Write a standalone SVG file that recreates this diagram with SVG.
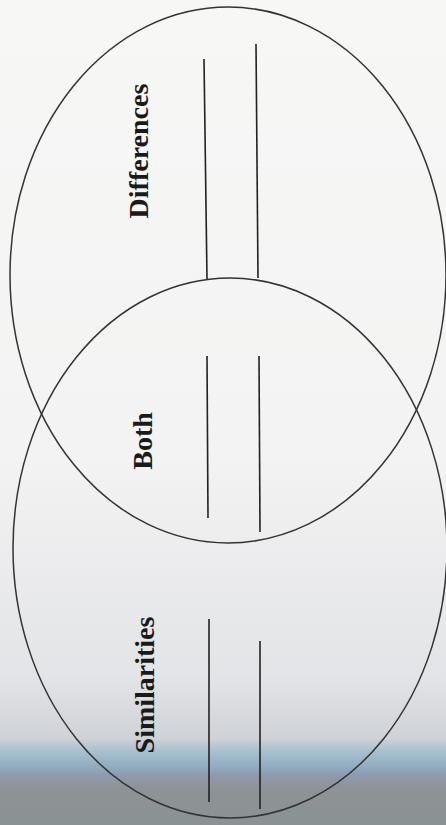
<svg xmlns="http://www.w3.org/2000/svg" width="446" height="825" viewBox="0 0 446 825">
<defs>
<linearGradient id="bg" x1="0" y1="0" x2="0" y2="825" gradientUnits="userSpaceOnUse">
<stop offset="0" stop-color="#f7f7f6"/>
<stop offset="0.55" stop-color="#f3f3f3"/>
<stop offset="0.82" stop-color="#e3e4e7"/>
<stop offset="0.895" stop-color="#cfd2d7"/>
<stop offset="0.91" stop-color="#a9c1cf"/>
<stop offset="0.925" stop-color="#94b2c5"/>
<stop offset="0.94" stop-color="#8f9aae"/>
<stop offset="0.955" stop-color="#8e9396"/>
<stop offset="1" stop-color="#8a9293"/>
</linearGradient>
<style>
.ring{fill:none;stroke:#333;stroke-width:1.5}
.rule{stroke:#222;stroke-width:1.6}
.lbl{font-family:"Liberation Serif","Times New Roman",serif;font-weight:bold;font-size:28px;fill:#1a1a1a;text-anchor:middle}
</style>
</defs>
<rect x="0" y="0" width="446" height="825" fill="url(#bg)"/>
<g id="differences">
<ellipse class="ring" cx="228" cy="275" rx="218" ry="268"/>
<text class="lbl" transform="translate(148,151) rotate(-90)">Differences</text>
</g>
<g id="similarities">
<ellipse class="ring" cx="230" cy="548" rx="217" ry="270"/>
<text class="lbl" transform="translate(154,685) rotate(-90)">Similarities</text>
</g>
<g id="both">
<text class="lbl" transform="translate(152,441) rotate(-90)">Both</text>
</g>
<g id="connectors">
<line class="rule" x1="204" y1="59" x2="207" y2="279"/>
<line class="rule" x1="256" y1="44" x2="258" y2="278"/>
<line class="rule" x1="207" y1="356" x2="208" y2="518"/>
<line class="rule" x1="259" y1="356" x2="260" y2="532"/>
<line class="rule" x1="209" y1="619" x2="209" y2="802"/>
<line class="rule" x1="260" y1="641" x2="260" y2="809"/>
</g>
</svg>
